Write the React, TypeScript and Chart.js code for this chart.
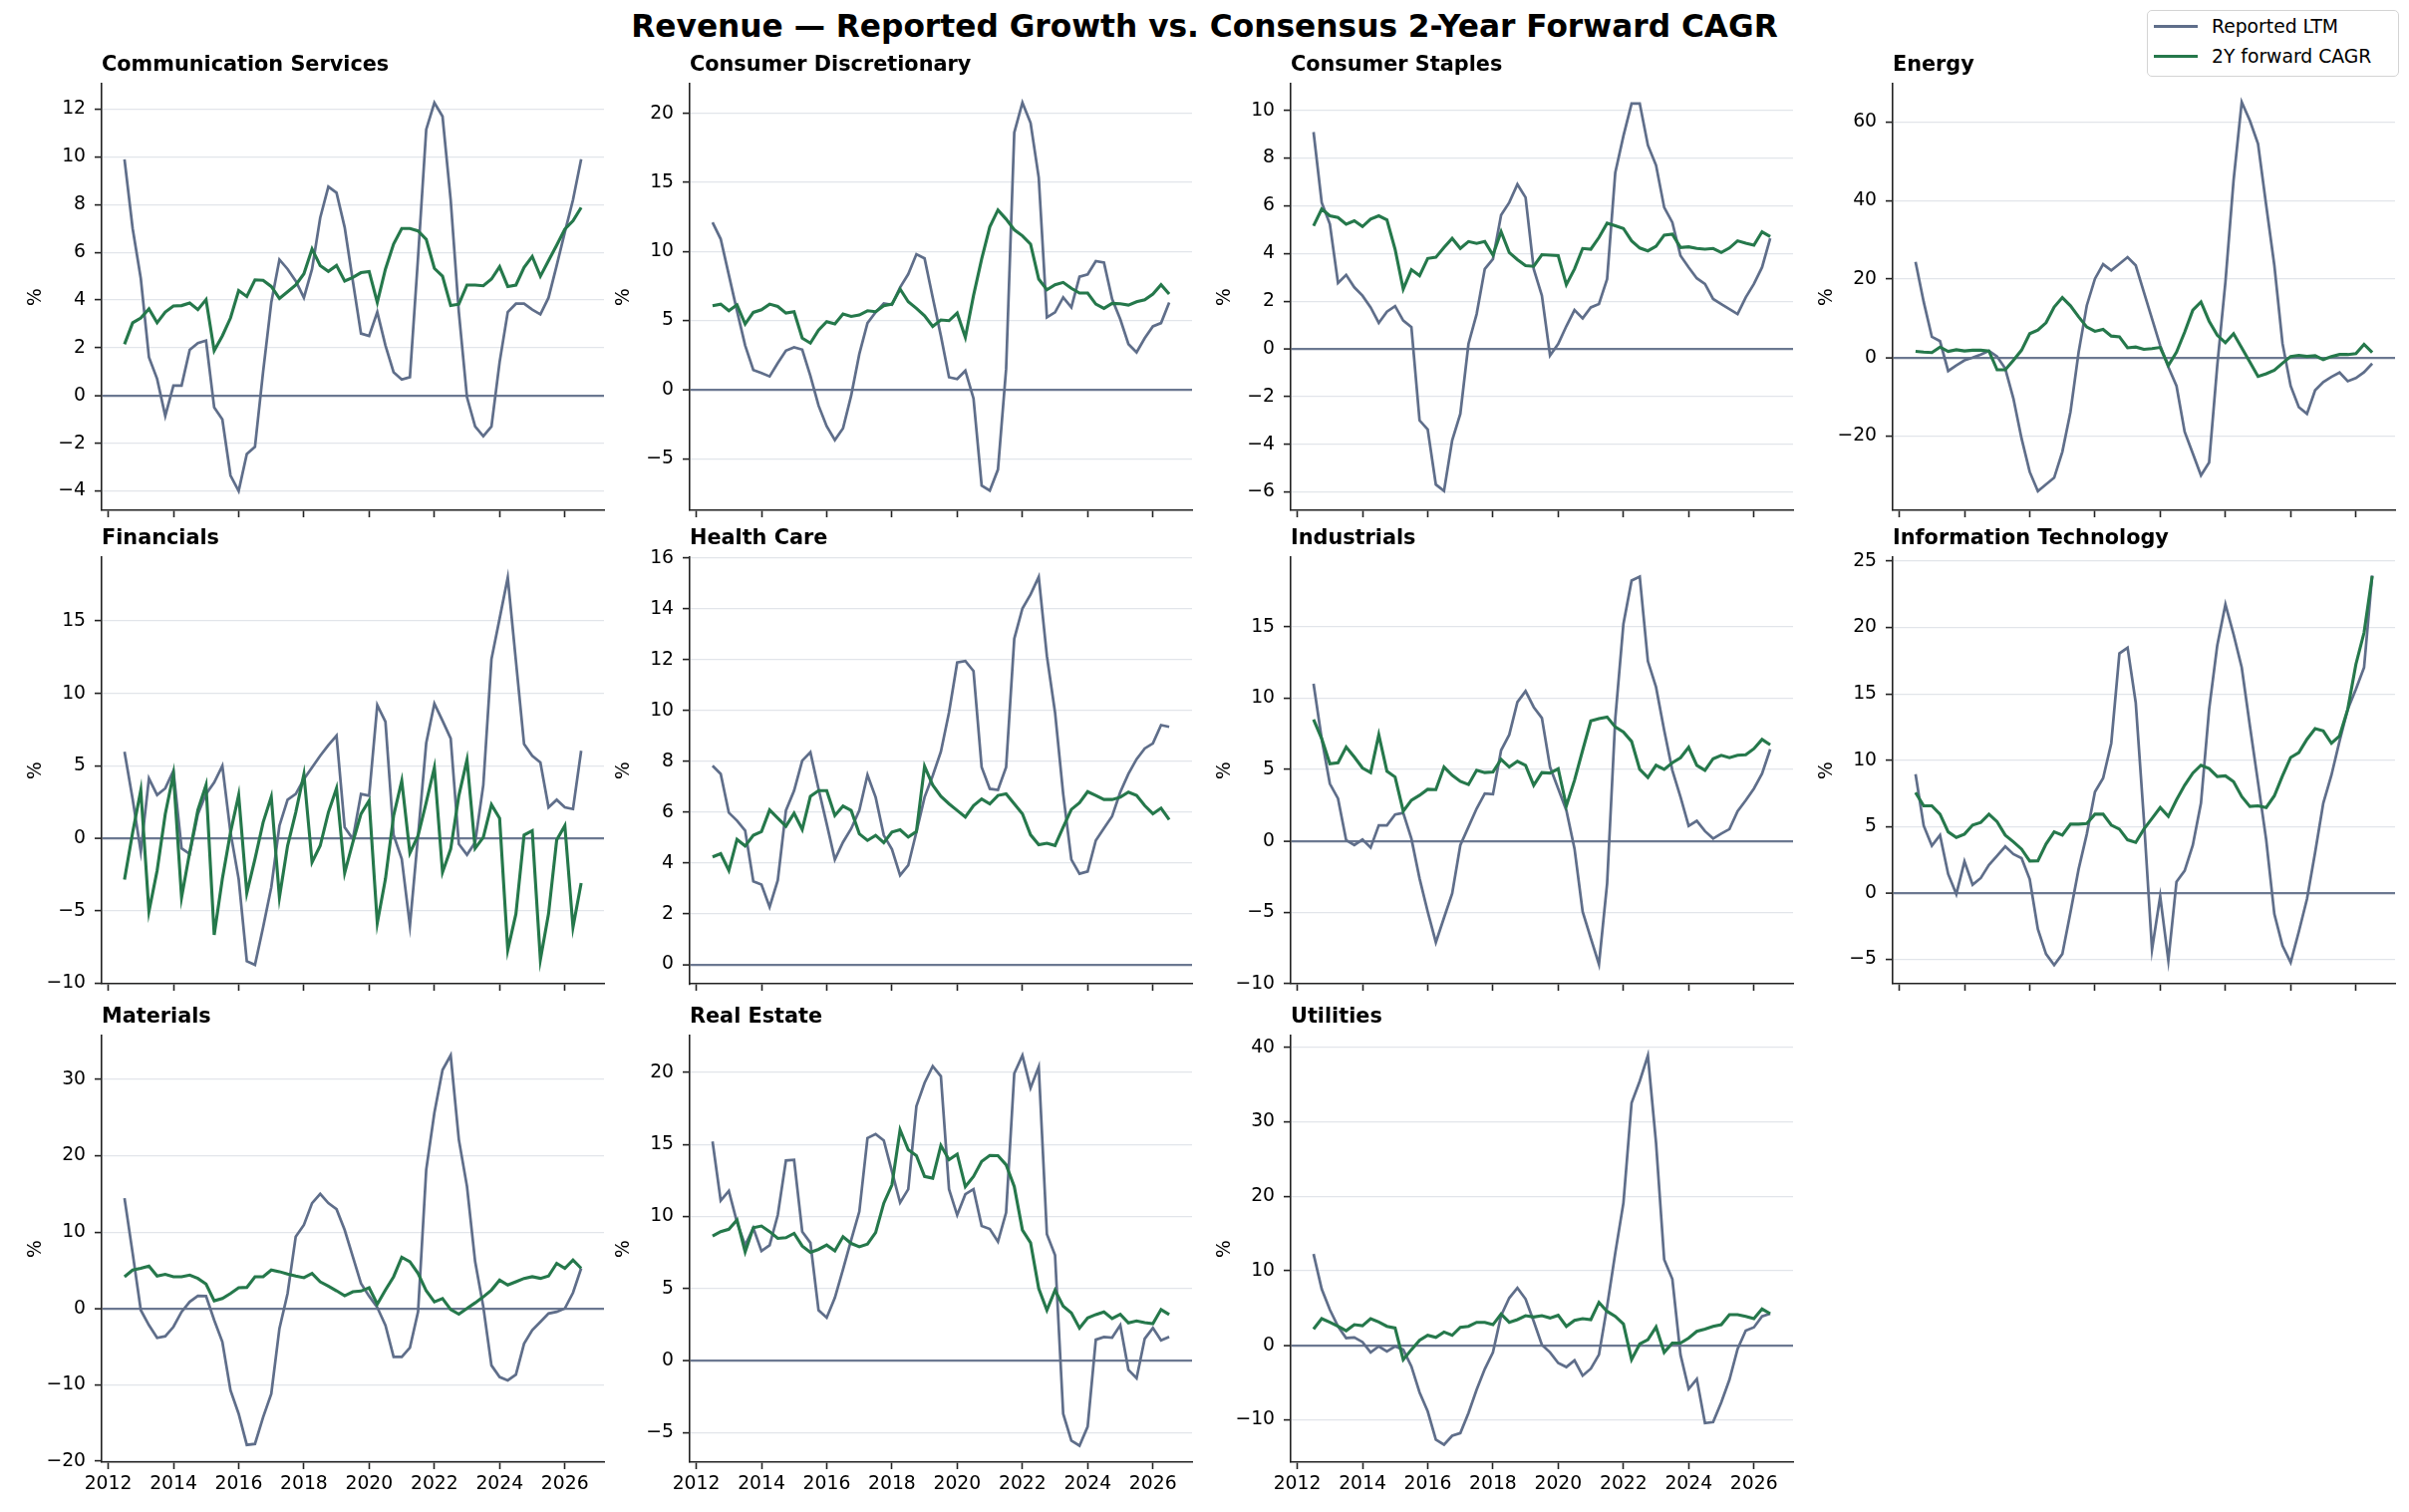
import React, { useEffect, useRef } from 'react';
import { Chart, registerables } from 'chart.js';

Chart.register(...registerables);

// ---------------- data ----------------
const QUARTERS = [2012.5, 2012.75, 2013, 2013.25, 2013.5, 2013.75, 2014, 2014.25, 2014.5, 2014.75, 2015, 2015.25, 2015.5, 2015.75, 2016, 2016.25, 2016.5, 2016.75, 2017, 2017.25, 2017.5, 2017.75, 2018, 2018.25, 2018.5, 2018.75, 2019, 2019.25, 2019.5, 2019.75, 2020, 2020.25, 2020.5, 2020.75, 2021, 2021.25, 2021.5, 2021.75, 2022, 2022.25, 2022.5, 2022.75, 2023, 2023.25, 2023.5, 2023.75, 2024, 2024.25, 2024.5, 2024.75, 2025, 2025.25, 2025.5, 2025.75, 2026, 2026.25, 2026.5];
const YEAR_TICKS = [2012, 2014, 2016, 2018, 2020, 2022, 2024, 2026];

const SECTOR_NAMES = ['Communication Services', 'Consumer Discretionary', 'Consumer Staples', 'Energy', 'Financials', 'Health Care', 'Industrials', 'Information Technology', 'Materials', 'Real Estate', 'Utilities'];
const SERIES_LABELS = ['Reported LTM', '2Y forward CAGR'];

const COMM_REPORTED = [9.9, 7.0, 4.9, 1.6, 0.7, -0.85, 0.42, 0.42, 1.92, 2.2, 2.3, -0.5, -1.0, -3.35, -4.0, -2.45, -2.15, 1.0, 3.9, 5.7, 5.3, 4.8, 4.1, 5.3, 7.45, 8.75, 8.5, 7.05, 4.8, 2.6, 2.5, 3.5, 2.1, 0.98, 0.67, 0.77, 5.8, 11.15, 12.27, 11.7, 8.2, 3.5, -0.07, -1.3, -1.7, -1.3, 1.4, 3.5, 3.85, 3.85, 3.6, 3.4, 4.1, 5.45, 6.85, 8.2, 9.9];
const COMM_CAGR = [2.15, 3.05, 3.25, 3.63, 3.05, 3.5, 3.75, 3.77, 3.88, 3.6, 4.02, 1.88, 2.5, 3.25, 4.4, 4.15, 4.85, 4.83, 4.57, 4.07, 4.35, 4.63, 5.1, 6.14, 5.45, 5.2, 5.45, 4.8, 4.95, 5.15, 5.2, 3.9, 5.3, 6.35, 7.0, 7.0, 6.9, 6.55, 5.33, 5.0, 3.77, 3.83, 4.63, 4.63, 4.6, 4.88, 5.4, 4.57, 4.63, 5.37, 5.83, 5.0, 5.65, 6.3, 6.97, 7.32, 7.88];

const DISC_REPORTED = [12.1, 10.9, 8.3, 5.7, 3.2, 1.42, 1.2, 0.96, 1.93, 2.82, 3.06, 2.9, 1.0, -1.15, -2.65, -3.64, -2.8, -0.43, 2.58, 4.82, 5.6, 6.24, 6.14, 7.4, 8.36, 9.8, 9.5, 6.67, 3.9, 0.9, 0.77, 1.37, -0.63, -6.94, -7.3, -5.78, 1.5, 18.6, 20.77, 19.3, 15.35, 5.23, 5.6, 6.67, 5.95, 8.17, 8.34, 9.3, 9.2, 6.55, 5.1, 3.3, 2.7, 3.73, 4.58, 4.82, 6.3];
const DISC_CAGR = [6.07, 6.19, 5.71, 6.14, 4.75, 5.59, 5.78, 6.19, 6.02, 5.54, 5.64, 3.73, 3.37, 4.31, 4.92, 4.75, 5.47, 5.3, 5.4, 5.71, 5.64, 6.07, 6.19, 7.28, 6.36, 5.88, 5.35, 4.58, 5.04, 4.99, 5.54, 3.78, 6.8, 9.45, 11.78, 13.0, 12.34, 11.57, 11.13, 10.53, 8.0, 7.23, 7.59, 7.76, 7.33, 6.99, 6.99, 6.19, 5.88, 6.24, 6.22, 6.12, 6.36, 6.5, 6.92, 7.59, 6.92];

const STAP_REPORTED = [9.09, 6.14, 5.23, 2.76, 3.1, 2.58, 2.23, 1.74, 1.09, 1.56, 1.79, 1.19, 0.91, -3.0, -3.38, -5.69, -5.96, -3.84, -2.72, 0.21, 1.46, 3.35, 3.77, 5.61, 6.14, 6.9, 6.35, 3.35, 2.23, -0.28, 0.21, 0.95, 1.63, 1.28, 1.74, 1.88, 2.93, 7.39, 8.93, 10.29, 10.29, 8.54, 7.7, 5.93, 5.3, 3.91, 3.42, 2.96, 2.72, 2.09, 1.88, 1.67, 1.46, 2.16, 2.72, 3.42, 4.63];
const STAP_CAGR = [5.16, 5.86, 5.58, 5.51, 5.23, 5.37, 5.13, 5.44, 5.58, 5.41, 4.18, 2.51, 3.32, 3.07, 3.79, 3.84, 4.25, 4.63, 4.21, 4.5, 4.42, 4.5, 3.93, 4.91, 4.04, 3.74, 3.49, 3.46, 3.95, 3.93, 3.91, 2.69, 3.35, 4.21, 4.18, 4.67, 5.27, 5.16, 5.05, 4.53, 4.23, 4.11, 4.3, 4.77, 4.81, 4.25, 4.28, 4.21, 4.18, 4.21, 4.04, 4.23, 4.53, 4.43, 4.35, 4.91, 4.71];

const ENGY_REPORTED = [24.4, 14.2, 5.3, 4.2, -3.4, -2.0, -0.7, 0, 0.8, 1.7, 0.3, -2.8, -10.4, -20.6, -29.1, -34.0, -32.3, -30.6, -24.0, -13.8, 1.4, 13.3, 20.1, 23.8, 22.2, 23.9, 25.6, 23.5, 16.7, 9.9, 3.1, -2.4, -7.2, -18.9, -24.4, -30.0, -26.7, -2.0, 19.3, 45.2, 65.1, 60.4, 54.5, 38.8, 23.5, 3.6, -7.2, -12.6, -14.3, -8.3, -6.2, -4.9, -3.8, -6.0, -5.2, -3.7, -1.5];
const ENGY_CAGR = [1.6, 1.4, 1.3, 2.7, 1.6, 2.0, 1.7, 1.9, 1.9, 1.7, -3.1, -3.1, -0.7, 1.9, 6.1, 7.0, 8.9, 12.9, 15.3, 13.2, 10.4, 7.8, 6.7, 7.2, 5.5, 5.3, 2.5, 2.7, 2.1, 2.3, 2.6, -2.0, 1.4, 6.5, 12.1, 14.2, 9.3, 5.7, 3.8, 6.1, 2.5, -1.1, -4.8, -4.1, -3.2, -1.4, 0.3, 0.6, 0.3, 0.5, -0.5, 0.3, 0.8, 0.8, 1.0, 3.4, 1.3];

const FINL_REPORTED = [5.97, 2.7, -0.92, 4.13, 2.99, 3.45, 4.66, -0.69, -1.08, 1.68, 3.06, 3.86, 5.0, 0.41, -2.8, -8.48, -8.73, -6.13, -3.38, 0.87, 2.66, 3.06, 4.09, 4.89, 5.7, 6.43, 7.08, 0.76, -0.05, 3.06, 2.94, 9.19, 8.04, 0.23, -1.42, -6.02, 0.18, 6.57, 9.3, 8.11, 6.89, -0.39, -1.13, -0.28, 3.68, 12.36, 15.16, 17.99, 12.24, 6.5, 5.7, 5.24, 2.14, 2.66, 2.14, 2.02, 6.04];
const FINL_CAGR = [-2.85, 0.41, 3.33, -5.05, -2.23, 1.68, 4.43, -4.07, -0.96, 1.95, 3.68, -6.66, -2.8, 0.41, 2.99, -3.77, -1.42, 1.1, 2.87, -4.07, -0.51, 1.79, 4.43, -1.65, -0.51, 1.79, 3.45, -2.39, -0.28, 1.68, 2.6, -5.84, -2.8, 1.56, 3.97, -1.01, 0.18, 2.48, 4.89, -2.34, -0.74, 2.94, 5.42, -0.69, 0.07, 2.32, 1.38, -7.7, -5.21, 0.23, 0.53, -8.36, -5.21, -0.11, 0.87, -6.13, -3.08];

const HLTH_REPORTED = [7.82, 7.5, 5.97, 5.66, 5.27, 3.27, 3.14, 2.26, 3.31, 6.06, 6.84, 8.02, 8.35, 6.91, 5.53, 4.13, 4.81, 5.34, 6.06, 7.46, 6.58, 5.08, 4.53, 3.51, 3.9, 5.21, 6.58, 7.43, 8.37, 9.92, 11.88, 11.94, 11.55, 7.76, 6.91, 6.87, 7.76, 12.82, 14.01, 14.56, 15.25, 12.14, 9.92, 6.71, 4.13, 3.57, 3.66, 4.88, 5.36, 5.83, 6.78, 7.5, 8.08, 8.5, 8.7, 9.42, 9.35];
const HLTH_CAGR = [4.23, 4.36, 3.7, 4.92, 4.66, 5.08, 5.23, 6.08, 5.76, 5.44, 5.95, 5.31, 6.62, 6.84, 6.84, 5.86, 6.23, 6.06, 5.14, 4.88, 5.08, 4.79, 5.21, 5.3, 5.01, 5.23, 7.8, 7.06, 6.62, 6.32, 6.06, 5.8, 6.25, 6.51, 6.32, 6.65, 6.71, 6.32, 5.93, 5.1, 4.71, 4.77, 4.68, 5.4, 6.1, 6.36, 6.8, 6.65, 6.49, 6.49, 6.58, 6.78, 6.65, 6.25, 5.93, 6.15, 5.7];

const INDU_REPORTED = [11.0, 7.15, 4.0, 2.96, 0.05, -0.3, 0.09, -0.47, 1.09, 1.09, 1.84, 1.96, 0.16, -2.63, -4.96, -7.1, -5.38, -3.68, -0.3, 0.98, 2.26, 3.31, 3.26, 6.34, 7.43, 9.71, 10.48, 9.36, 8.6, 5.17, 3.66, 2.14, -0.54, -4.96, -6.82, -8.64, -2.98, 8.55, 15.19, 18.22, 18.5, 12.58, 10.76, 7.73, 4.94, 3.07, 1.05, 1.4, 0.68, 0.16, 0.51, 0.82, 2.07, 2.84, 3.66, 4.71, 6.41];
const INDU_CAGR = [8.5, 7.15, 5.4, 5.47, 6.57, 5.87, 5.1, 4.78, 7.43, 4.87, 4.47, 2.07, 2.84, 3.19, 3.61, 3.59, 5.17, 4.59, 4.17, 3.94, 4.94, 4.78, 4.82, 5.71, 5.17, 5.57, 5.29, 3.89, 4.78, 4.75, 5.05, 2.45, 4.24, 6.34, 8.39, 8.55, 8.67, 7.97, 7.62, 6.96, 5.01, 4.43, 5.29, 5.01, 5.47, 5.82, 6.55, 5.29, 4.94, 5.75, 5.99, 5.82, 5.99, 6.03, 6.45, 7.1, 6.73];

const TECH_REPORTED = [8.95, 5.07, 3.56, 4.36, 1.43, -0.08, 2.38, 0.63, 1.13, 2.11, 2.81, 3.51, 2.93, 2.63, 1.05, -2.71, -4.59, -5.42, -4.59, -1.45, 1.81, 4.44, 7.62, 8.65, 11.28, 18.05, 18.48, 14.34, 5.57, -4.26, -0.25, -5.09, 0.85, 1.68, 3.61, 6.77, 13.84, 18.66, 21.74, 19.48, 16.98, 12.59, 8.32, 4.01, -1.58, -3.96, -5.22, -2.91, -0.45, 3.06, 6.77, 8.88, 11.46, 13.84, 15.35, 16.98, 23.92];
const TECH_CAGR = [7.57, 6.57, 6.57, 5.94, 4.61, 4.19, 4.44, 5.12, 5.32, 5.94, 5.37, 4.36, 3.86, 3.31, 2.41, 2.43, 3.69, 4.61, 4.36, 5.19, 5.19, 5.24, 5.94, 5.94, 5.12, 4.81, 4.01, 3.81, 4.81, 5.62, 6.44, 5.77, 7.02, 8.12, 9.03, 9.63, 9.38, 8.78, 8.83, 8.38, 7.27, 6.52, 6.57, 6.44, 7.32, 8.83, 10.21, 10.58, 11.58, 12.39, 12.21, 11.28, 11.84, 13.84, 17.23, 19.61, 23.87];

const MATL_REPORTED = [14.45, 7.23, -0.22, -2.19, -3.85, -3.64, -2.41, -0.44, 0.88, 1.66, 1.62, -1.53, -4.38, -10.73, -13.8, -17.87, -17.74, -14.24, -11.17, -2.63, 1.97, 9.42, 10.95, 13.8, 15.02, 13.8, 13.01, 10.29, 6.79, 3.29, 1.62, 0.13, -2.19, -6.35, -6.35, -5.12, -0.44, 18.18, 25.62, 31.23, 33.16, 22.12, 15.99, 6.13, 0.22, -7.45, -8.98, -9.42, -8.67, -4.6, -2.85, -1.75, -0.66, -0.44, 0, 2.06, 5.26];
const MATL_CAGR = [4.16, 5.04, 5.26, 5.56, 4.25, 4.47, 4.16, 4.16, 4.38, 3.94, 3.2, 1.01, 1.31, 1.97, 2.72, 2.76, 4.16, 4.16, 5.04, 4.82, 4.51, 4.25, 4.03, 4.6, 3.5, 2.93, 2.32, 1.66, 2.19, 2.28, 2.72, 0.57, 2.41, 4.16, 6.7, 6.13, 4.6, 2.32, 0.88, 1.31, -0.13, -0.74, 0, 0.74, 1.53, 2.41, 3.72, 3.07, 3.5, 3.94, 4.16, 3.94, 4.25, 5.91, 5.26, 6.35, 5.26];

const REAL_REPORTED = [15.2, 11.1, 11.77, 9.6, 8.0, 9.2, 7.6, 8.0, 10.1, 13.88, 13.93, 8.95, 8.18, 3.5, 2.99, 4.36, 6.33, 8.37, 10.34, 15.43, 15.71, 15.27, 13.12, 10.96, 11.89, 17.64, 19.26, 20.42, 19.72, 11.89, 10.1, 11.54, 11.89, 9.34, 9.13, 8.25, 10.27, 19.91, 21.16, 18.91, 20.37, 8.78, 7.32, -3.68, -5.54, -5.89, -4.57, 1.46, 1.65, 1.6, 2.46, -0.63, -1.21, 1.53, 2.27, 1.41, 1.65];
const REAL_CAGR = [8.64, 8.95, 9.11, 9.76, 7.55, 9.22, 9.34, 8.95, 8.48, 8.53, 8.83, 7.95, 7.51, 7.72, 8.02, 7.62, 8.6, 8.13, 7.9, 8.09, 8.88, 10.92, 12.19, 16.01, 14.62, 14.21, 12.77, 12.65, 14.92, 13.93, 14.32, 12.07, 12.77, 13.81, 14.23, 14.21, 13.58, 12.07, 9.06, 8.18, 5.0, 3.5, 4.89, 3.78, 3.31, 2.27, 2.97, 3.2, 3.38, 2.92, 3.22, 2.62, 2.76, 2.64, 2.57, 3.55, 3.2];

const UTIL_REPORTED = [12.26, 7.56, 4.79, 2.55, 0.98, 1.07, 0.45, -0.94, -0.13, -0.81, -0.13, -0.58, -2.82, -6.31, -8.86, -12.66, -13.33, -12.13, -11.77, -9.08, -5.95, -3.18, -0.94, 3.98, 6.35, 7.7, 6.22, 3.22, 0.09, -0.94, -2.37, -2.91, -2.01, -4.07, -3.13, -1.25, 5.23, 12.39, 19.11, 32.53, 35.44, 38.88, 27.16, 11.5, 8.9, -1.25, -5.86, -4.52, -10.43, -10.29, -7.65, -4.61, -0.49, 1.97, 2.42, 3.89, 4.25];
const UTIL_CAGR = [2.19, 3.58, 3.09, 2.55, 1.97, 2.77, 2.64, 3.58, 3.13, 2.55, 2.33, -1.92, -0.58, 0.67, 1.34, 1.07, 1.79, 1.34, 2.42, 2.55, 3.09, 3.09, 2.77, 4.21, 3.09, 3.45, 3.98, 3.8, 3.98, 3.67, 4.03, 2.55, 3.36, 3.58, 3.45, 5.77, 4.56, 3.89, 2.86, -1.92, 0.18, 0.76, 2.46, -0.94, 0.31, 0.31, 0.98, 1.88, 2.19, 2.55, 2.77, 4.12, 4.12, 3.89, 3.58, 4.88, 4.25];

// y-axis limits and tick values per panel
const Y_LIMITS = [[-4.81, 13.07], [-8.73, 22.14], [-6.77, 11.12], [-38.9, 69.8], [-10.03, 19.4], [-0.76, 16.03], [-10.0, 19.86], [-6.83, 25.3], [-20.13, 35.75], [-7.03, 22.54], [-15.67, 41.56]];
const Y_TICKS = [
  [-4, -2, 0, 2, 4, 6, 8, 10, 12],
  [-5, 0, 5, 10, 15, 20],
  [-6, -4, -2, 0, 2, 4, 6, 8, 10],
  [-20, 0, 20, 40, 60],
  [-10, -5, 0, 5, 10, 15],
  [0, 2, 4, 6, 8, 10, 12, 14, 16],
  [-10, -5, 0, 5, 10, 15],
  [-5, 0, 5, 10, 15, 20, 25],
  [-20, -10, 0, 10, 20, 30],
  [-5, 0, 5, 10, 15, 20],
  [-10, 0, 10, 20, 30, 40],
];
const REPORTED = [COMM_REPORTED, DISC_REPORTED, STAP_REPORTED, ENGY_REPORTED, FINL_REPORTED, HLTH_REPORTED, INDU_REPORTED, TECH_REPORTED, MATL_REPORTED, REAL_REPORTED, UTIL_REPORTED];
const CAGR = [COMM_CAGR, DISC_CAGR, STAP_CAGR, ENGY_CAGR, FINL_CAGR, HLTH_CAGR, INDU_CAGR, TECH_CAGR, MATL_CAGR, REAL_CAGR, UTIL_CAGR];

// ---------------- style / layout ----------------
const FONT = '"DejaVu Sans", Verdana, sans-serif';
const GRAY = '#5f6e8a';
const GREEN = '#25784b';
const ZERO = '#6b7891';
const GRID = '#e2e5ea';
const AXIS = '#222222';
const GRAY_W = 2.7;
const GREEN_W = 3.1;
const X_MIN = 2011.8;
const X_MAX = 2027.2;

const AX_LEFT = [102, 692, 1295, 1899];
const AX_TOP = [84, 559, 1039];
const AX_W = 504;
const AX_H = 428;
const PAD_L = 79;
const PAD_T = 40;
const PAD_R = 12;
const PAD_B = 48;
const CW = PAD_L + AX_W + PAD_R;
const CH = PAD_T + AX_H + PAD_B;

const fmtY = (v: number) => (v < 0 ? '\u2212' + Math.abs(v) : String(v));

function Panel({ idx }: { idx: number }) {
  const ref = useRef<HTMLCanvasElement>(null);
  const row = Math.floor(idx / 4);
  const col = idx % 4;
  const showX = idx >= 8;
  useEffect(() => {
    const ticksY = Y_TICKS[idx];
    const chart = new Chart(ref.current as HTMLCanvasElement, {
      type: 'line',
      data: {
        datasets: [
          {
            label: SERIES_LABELS[0],
            data: QUARTERS.map((x, i) => ({ x, y: REPORTED[idx][i] })),
            borderColor: GRAY,
            borderWidth: GRAY_W,
            pointRadius: 0,
            tension: 0,
            order: 1,
          },
          {
            label: SERIES_LABELS[1],
            data: QUARTERS.map((x, i) => ({ x, y: CAGR[idx][i] })),
            borderColor: GREEN,
            borderWidth: GREEN_W,
            pointRadius: 0,
            tension: 0,
            order: 0,
          },
        ],
      },
      options: {
        animation: false,
        responsive: false,
        devicePixelRatio: 1,
        events: [],
        layout: { padding: { left: 0, right: PAD_R, top: 0, bottom: 0 } },
        plugins: {
          legend: { display: false },
          tooltip: { enabled: false },
          title: {
            display: true,
            text: SECTOR_NAMES[idx],
            align: 'start',
            fullSize: false,
            color: '#000',
            font: { family: FONT, size: 20.8, weight: 'bold', lineHeight: 1.2 },
            padding: { top: 9, bottom: 6 },
          },
        },
        scales: {
          x: {
            type: 'linear',
            min: X_MIN,
            max: X_MAX,
            bounds: 'data',
            afterBuildTicks: (s: any) => {
              s.ticks = YEAR_TICKS.map((v) => ({ value: v }));
            },
            afterFit: (s: any) => {
              s.height = PAD_B;
            },
            ticks: {
              display: showX,
              autoSkip: false,
              maxRotation: 0,
              padding: 4,
              color: '#000',
              font: { family: FONT, size: 18.75 },
              callback: (v: any) => String(v),
            },
            grid: {
              display: true,
              drawOnChartArea: false,
              drawTicks: true,
              tickLength: 7,
              tickColor: AXIS,
              tickWidth: 1.6,
            },
            border: { display: true, color: AXIS, width: 1.6 },
          },
          y: {
            type: 'linear',
            min: Y_LIMITS[idx][0],
            max: Y_LIMITS[idx][1],
            bounds: 'data',
            afterBuildTicks: (s: any) => {
              s.ticks = ticksY.map((v) => ({ value: v }));
            },
            afterFit: (s: any) => {
              s.width = PAD_L;
            },
            title: {
              display: true,
              text: '%',
              color: '#000',
              font: { family: FONT, size: 18.75, lineHeight: 1.2 },
              padding: { top: 2, bottom: 2 },
            },
            ticks: {
              padding: 9,
              color: '#000',
              font: { family: FONT, size: 18.75 },
              callback: (v: any) => fmtY(Number(v)),
            },
            grid: {
              color: (c: any) => (c.tick && c.tick.value === 0 ? ZERO : GRID),
              lineWidth: (c: any) => (c.tick && c.tick.value === 0 ? 2.2 : 1.2),
              drawTicks: true,
              tickLength: 7,
              tickColor: AXIS,
              tickWidth: 1.6,
            },
            border: { display: true, color: AXIS, width: 1.6 },
          },
        },
      } as any,
    });
    return () => chart.destroy();
  }, [idx]);
  return (
    <canvas
      ref={ref}
      width={CW}
      height={CH}
      style={{ position: 'absolute', left: AX_LEFT[col] - PAD_L, top: AX_TOP[row] - PAD_T, width: CW, height: CH }}
    />
  );
}

function Legend() {
  const rows = [
    { label: SERIES_LABELS[0], color: GRAY, w: GRAY_W, y: 17 },
    { label: SERIES_LABELS[1], color: GREEN, w: GREEN_W, y: 47 },
  ];
  return (
    <div
      style={{
        position: 'absolute',
        left: 2154,
        top: 10,
        width: 253,
        height: 67,
        boxSizing: 'border-box',
        border: '1.5px solid #d4d4d4',
        borderRadius: 5,
        background: '#fff',
        fontFamily: FONT,
        fontSize: 18.75,
        color: '#000',
      }}
    >
      {rows.map((r) => (
        <React.Fragment key={r.label}>
          <div style={{ position: 'absolute', left: 6, top: r.y - r.w / 2 - 1.5, width: 44, height: r.w, background: r.color }} />
          <div style={{ position: 'absolute', left: 64, top: r.y - 13 - 1.5, height: 26, lineHeight: '26px', whiteSpace: 'nowrap' }}>{r.label}</div>
        </React.Fragment>
      ))}
    </div>
  );
}

export default function App() {
  return (
    <div style={{ position: 'fixed', left: 0, top: 0, width: 2417, height: 1517, background: '#fff', overflow: 'hidden' }}>
      <div
        style={{
          position: 'absolute',
          left: 0,
          top: 8,
          width: 2417,
          textAlign: 'center',
          fontFamily: FONT,
          fontWeight: 'bold',
          fontSize: 31.25,
          lineHeight: '36px',
          color: '#000',
          whiteSpace: 'nowrap',
        }}
      >
        Revenue — Reported Growth vs. Consensus 2-Year Forward CAGR
      </div>
      {SECTOR_NAMES.map((_, i) => (
        <Panel key={i} idx={i} />
      ))}
      <Legend />
    </div>
  );
}
